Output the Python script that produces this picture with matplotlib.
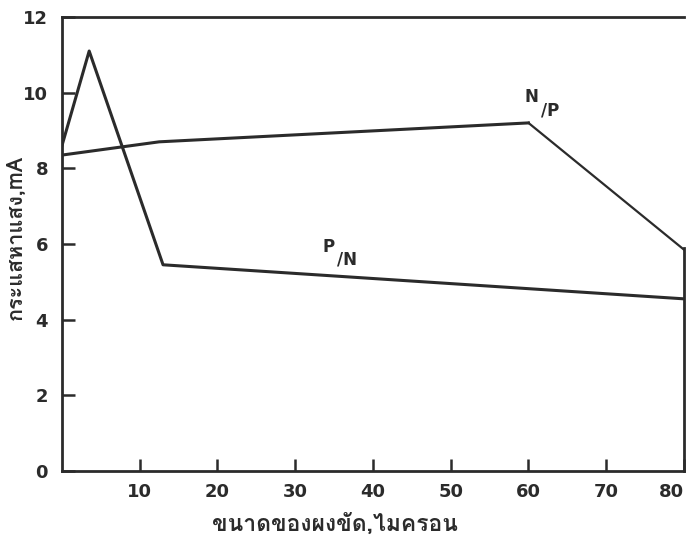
import matplotlib
matplotlib.use("Agg")
import matplotlib.pyplot as plt
import matplotlib.patheffects as pe
from matplotlib import font_manager
from matplotlib.ft2font import FT2Font

# grain size of the abrasive powder (micron) vs photocurrent (mA)
x_pn = [0, 3.5, 13, 80]
y_pn = [8.6, 11.1, 5.45, 4.55]

x_np = [0, 12.5, 60, 80]
y_np = [8.35, 8.7, 9.2, 5.85]

x_ticks = [10, 20, 30, 40, 50, 60, 70, 80]
y_ticks = [0, 2, 4, 6, 8, 10, 12]

x_label = "ขนาดของผงขัด,ไมครอน"
y_label = "กระแสหาแสง,mA"


def thai_font_file():
    # pick an installed Thai font, preferring zero-width vowel marks and bold
    best, best_score = None, None
    for path in sorted(font_manager.findSystemFonts()):
        try:
            f = FT2Font(path)
            cmap = f.get_charmap()
        except Exception:
            continue
        if ord("ก") not in cmap or 0x0E31 not in cmap:
            continue
        g = f.load_char(0x0E31)
        score = (g.linearHoriAdvance == 0, "Bold" in f.style_name,
                 ord("A") in cmap)
        if best_score is None or score > best_score:
            best, best_score = path, score
    return best, best_score


thai_path, thai_score = thai_font_file()
thai_bold = bool(thai_score and thai_score[1])
ink = "#2b2b2b"

fig = plt.figure(figsize=(6.87, 5.46), dpi=100)
ax = fig.add_axes([0.0902, 0.1374, 0.9054, 0.8315])

ax.plot(x_pn, y_pn, color=ink, lw=2.2)
ax.plot(x_np[:3], y_np[:3], color=ink, lw=2.2)
ax.plot(x_np[2:], y_np[2:], color=ink, lw=1.6)

ax.set_xlim(0, 80)
ax.set_ylim(0, 12)
ax.set_xticks(x_ticks)
ax.set_yticks(y_ticks)
ax.set_xticklabels([str(v) for v in x_ticks])
ax.set_yticklabels([str(v) for v in y_ticks])

for s in ax.spines.values():
    s.set_color(ink)
    s.set_linewidth(2.0)
ax.spines["right"].set_bounds(0, 5.9)

ax.tick_params(direction="in", length=9, width=1.8, color=ink,
               labelsize=13, labelcolor=ink)
ax.tick_params(axis="x", pad=9)
ax.tick_params(axis="y", pad=10)
for lab in ax.get_xticklabels() + ax.get_yticklabels():
    lab.set_fontweight("bold")
ax.get_xticklabels()[-1].set_horizontalalignment("right")

ax.text(59.5, 9.75, "N", fontsize=12, fontweight="bold", color=ink)
ax.text(61.6, 9.4, "/P", fontsize=12, fontweight="bold", color=ink)
ax.text(33.5, 5.8, "P", fontsize=12, fontweight="bold", color=ink)
ax.text(35.4, 5.45, "/N", fontsize=12, fontweight="bold", color=ink)

if thai_path:
    xfp = font_manager.FontProperties(fname=thai_path, size=16.5)
    yfp = font_manager.FontProperties(fname=thai_path, size=15.5)
else:
    xfp = font_manager.FontProperties(size=15, weight="bold")
    yfp = font_manager.FontProperties(size=13, weight="bold")
thick = [] if thai_bold else [pe.withStroke(linewidth=1.3, foreground=ink)]

xl = ax.set_xlabel(x_label, fontproperties=xfp, color=ink, va="center")
yl = ax.set_ylabel(y_label, fontproperties=yfp, color=ink, va="center")
ax.xaxis.set_label_coords(0.439, -0.117)
ax.yaxis.set_label_coords(-0.074, 0.515)
xl.set_path_effects(thick)
yl.set_path_effects(thick)

fig.savefig("out.png", dpi=100)
